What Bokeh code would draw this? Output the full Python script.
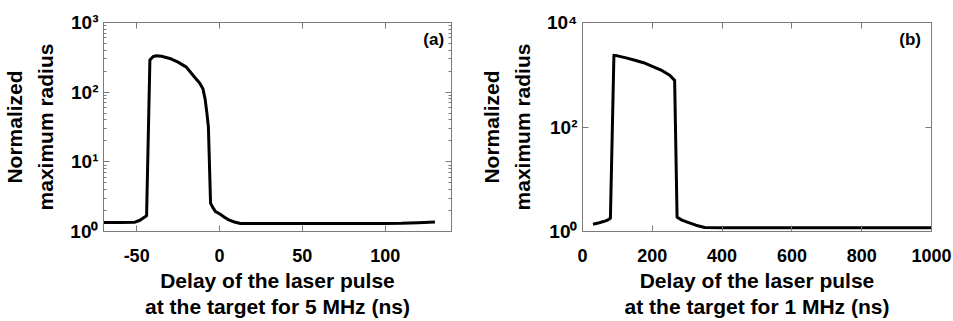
from bokeh.plotting import figure
from bokeh.layouts import row
from bokeh.models import FixedTicker, LinearAxis, LogAxis, Label, CustomJSTickFormatter, Range1d
from bokeh.embed import file_html
from bokeh.resources import INLINE

# ---------------- data: panel (a), 5 MHz ----------------
a_delay = [-70, -60, -51, -48, -44, -42, -40, -38, -35, -30, -25, -20, -15, -12,
           -10, -8.7, -7.6, -6.7, -5.4, -4, -2.4, 0, 3, 5.6, 9, 12.6, 20, 40,
           60, 80, 100, 110, 120, 130]
a_radius = [1.35, 1.35, 1.36, 1.45, 1.68, 290, 325, 333, 328, 305, 270, 229, 164, 135,
            112, 80, 50, 31.6, 2.55, 2.2, 1.93, 1.8, 1.6, 1.47, 1.37, 1.30, 1.30, 1.30,
            1.30, 1.30, 1.30, 1.31, 1.34, 1.37]
a_xrange = (-70, 140)
a_yrange = (1, 1000)
a_xticks = [-50, 0, 50, 100]
a_xlabels = ["-50", "0", "50", "100"]
a_yticks = [1, 10, 100, 1000]
a_ylabels = ["10⁰", "10¹", "10²", "10³"]

# ---------------- data: panel (b), 1 MHz ----------------
b_delay = [30, 45, 60, 70, 80, 90, 100, 125, 150, 175, 200, 225, 250, 264, 271,
           285, 302, 325, 350, 400, 600, 800, 1000]
b_radius = [1.38, 1.45, 1.55, 1.63, 1.8, 2350, 2300, 2100, 1900, 1700, 1450, 1230,
            980, 780, 1.88, 1.65, 1.5, 1.32, 1.19, 1.18, 1.18, 1.18, 1.18]
b_xrange = (0, 1000)
b_yrange = (1, 10000)
b_xticks = [0, 200, 400, 600, 800, 1000]
b_xlabels = ["0", "200", "400", "600", "800", "1000"]
b_yticks = [1, 100, 10000]
b_ylabels = ["10⁰", "10²", "10⁴"]

ylabel = "Normalized\nmaximum radius"
a_xlabel = "Delay of the laser pulse\nat the target for 5 MHz (ns)"
b_xlabel = "Delay of the laser pulse\nat the target for 1 MHz (ns)"

FONT = "Liberation Sans"
AXIS_COLOR = "#7a7a7a"


def minor_log(yticks_all):
    out = []
    for d in yticks_all[:-1]:
        out += [d * k for k in range(2, 10)]
    return out


def base_axis(ax, ticker):
    ax.ticker = ticker
    ax.axis_line_color = AXIS_COLOR
    ax.axis_line_width = 1
    ax.major_tick_line_color = AXIS_COLOR
    ax.minor_tick_line_color = AXIS_COLOR
    ax.major_tick_in = 6
    ax.major_tick_out = 0
    ax.minor_tick_in = 3
    ax.minor_tick_out = 0
    ax.axis_label_text_font = FONT
    ax.axis_label_text_font_style = "bold"
    ax.axis_label_text_font_size = "21px"
    ax.axis_label_text_color = "black"
    ax.major_label_text_font = FONT
    ax.major_label_text_font_style = "bold"
    ax.major_label_text_font_size = "18px"
    ax.major_label_text_color = "black"


def blank_labels(ax):
    ax.formatter = CustomJSTickFormatter(code="return ''")
    ax.major_label_text_font_size = "0px"
    ax.major_label_standoff = 0


def make_panel(xs, ys, xr, yr, xticks, xlabels, yticks, ylabels, yminor, xlabel,
               tag, tag_x, tag_y, width, left_b, right_b):
    p = figure(x_range=Range1d(*xr), y_range=Range1d(*yr), y_axis_type="log",
               width=width, height=321,
               min_border_left=left_b, min_border_right=right_b,
               min_border_top=22, min_border_bottom=90,
               output_backend="svg", toolbar_location=None,
               background_fill_color="white", border_fill_color="white")
    p.xgrid.visible = False
    p.ygrid.visible = False
    p.outline_line_color = AXIS_COLOR

    p.line(xs, ys, line_width=3, line_color="black", line_join="round")

    # bottom axis
    xa = p.xaxis[0]
    base_axis(xa, FixedTicker(ticks=xticks, minor_ticks=[]))
    xa.major_label_overrides = dict(zip(xticks, xlabels))
    xa.major_label_standoff = 17
    xa.axis_label = xlabel
    xa.axis_label_standoff = 4
    xa.axis_label_text_line_height = 1.15

    # left axis
    ya = p.yaxis[0]
    base_axis(ya, FixedTicker(ticks=yticks, minor_ticks=yminor))
    ya.major_label_overrides = dict(zip(yticks, ylabels))
    ya.major_label_text_font_size = "19px"
    ya.major_label_standoff = 5
    ya.axis_label = ylabel
    ya.axis_label_standoff = 10
    ya.axis_label_text_line_height = 1.35

    # box: top and right axes with ticks only
    top = LinearAxis()
    base_axis(top, FixedTicker(ticks=xticks, minor_ticks=[]))
    blank_labels(top)
    p.add_layout(top, "above")
    right = LogAxis()
    base_axis(right, FixedTicker(ticks=yticks, minor_ticks=yminor))
    blank_labels(right)
    p.add_layout(right, "right")

    p.add_layout(Label(x=tag_x, y=tag_y, text=tag, text_align="right",
                       text_baseline="top", text_font=FONT,
                       text_font_style="bold", text_font_size="17px",
                       text_color="black"))
    return p


pa = make_panel(a_delay, a_radius, a_xrange, a_yrange, a_xticks, a_xlabels,
                a_yticks, a_ylabels, minor_log(a_yticks), a_xlabel,
                "(a)", 135.5, 790, 476, 102, 25)
pb = make_panel(b_delay, b_radius, b_xrange, b_yrange, b_xticks, b_xlabels,
                b_yticks, b_ylabels, [], b_xlabel,
                "(b)", 970, 7300, 477, 105, 22)

layout = row(pa, pb)
open("out.html", "w").write(file_html(layout, INLINE))
